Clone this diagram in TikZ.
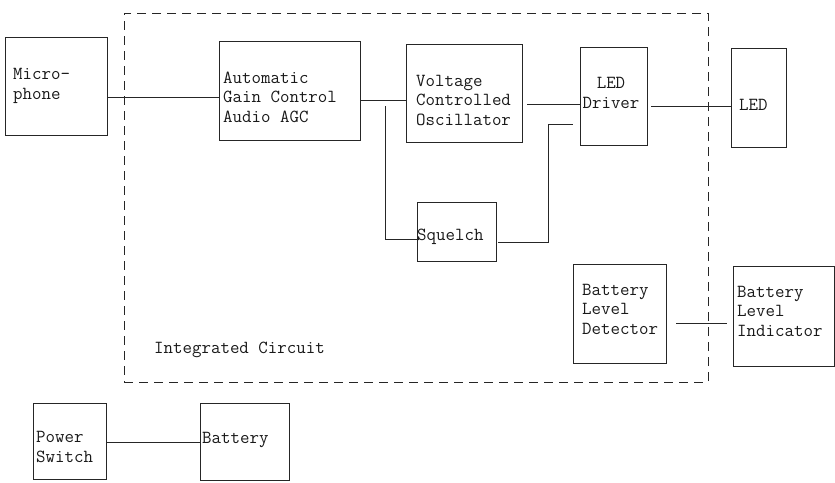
\documentclass[tikz,border=0pt]{standalone}
\usepackage{fontspec}
\begin{document}
\begin{tikzpicture}[x=1pt,y=-1pt,
  blk/.style={draw=black!85, line width=0.7pt, rectangle, inner sep=0pt},
  txt/.style={font=\ttfamily\fontsize{18.4}{19.5}\selectfont, inner sep=0pt, anchor=west, align=left, text=black!90},
  wire/.style={draw=black!85, line width=0.7pt},
  icbox/.style={draw=black!85, line width=0.7pt, dash pattern=on 9pt off 6pt, rectangle, inner sep=0pt}]
\useasboundingbox (0,0) rectangle (835,482);
% integrated circuit boundary
\node[icbox, minimum width=584pt, minimum height=369pt] (ic) at (416,197.5) {};
\node[txt] (iclbl) at (154,350) {Integrated Circuit};
% blocks
\node[blk, minimum width=102pt, minimum height=98pt] (mic) at (56,86) {};
\node[blk, minimum width=141pt, minimum height=99pt] (agc) at (289.5,90.5) {};
\node[blk, minimum width=116pt, minimum height=98pt] (vco) at (464,93) {};
\node[blk, minimum width=67pt, minimum height=98pt] (drv) at (613.5,96) {};
\node[blk, minimum width=55pt, minimum height=99pt] (led) at (758.5,97.5) {};
\node[blk, minimum width=79pt, minimum height=59pt] (sq) at (456.5,231.5) {};
\node[blk, minimum width=93pt, minimum height=99pt] (bld) at (619.5,313.5) {};
\node[blk, minimum width=101pt, minimum height=100pt] (bli) at (783.5,316) {};
\node[blk, minimum width=73pt, minimum height=76pt] (ps) at (69.5,441) {};
\node[blk, minimum width=89pt, minimum height=77pt] (bat) at (244.5,441.5) {};
% texts
\node[txt] (micT) at (13,86) {Micro-\\phone};
\node[txt] (agcT) at (223,97) {Automatic\\Gain Control\\Audio AGC};
\node[txt] (vcoT) at (416,100) {Voltage\\Controlled\\Oscillator};
\node[txt, anchor=center, align=center] (drvT) at (611,93) {LED\\Driver};
\node[txt] (ledT) at (739,105) {LED};
\node[txt] (sqT) at (417,237) {Squelch};
\node[txt] (bldT) at (582,309) {Battery\\Level\\Detector};
\node[txt] (bliT) at (737,311) {Battery\\Level\\Indicator};
\node[txt] (psT) at (36,447) {Power\\Switch};
\node[txt] (batT) at (202,440) {Battery};
% connectors
\coordinate (br) at (385,100);
\draw[wire] (mic.east |- 0,97) -- (agc.west |- 0,97);
\draw[wire] (agc.east |- 0,100) -- (vco.west |- 0,100);
\draw[wire, shorten <=6pt] (br) |- (sq.west |- 0,239);
\draw[wire, shorten <=5pt] (vco.east |- 0,104) -- (drv.west |- 0,104);
\draw[wire, shorten <=2pt, shorten >=7pt] (sq.east |- 0,242) -| (548,124) -- (drv.west |- 0,124);
\draw[wire, shorten <=4pt] (drv.east |- 0,106) -- (led.west |- 0,106);
\draw[wire, shorten <=10pt, shorten >=6pt] (bld.east |- 0,323) -- (bli.west |- 0,323);
\draw[wire] (ps.east |- 0,442) -- (bat.west |- 0,442);
\end{tikzpicture}
\end{document}
